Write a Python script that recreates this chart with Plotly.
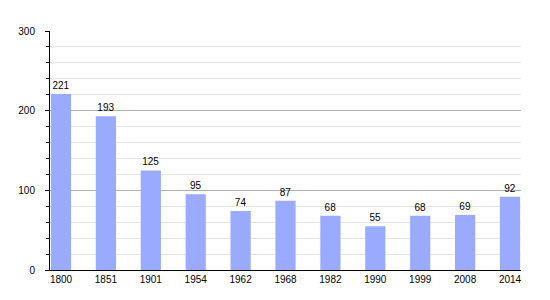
import plotly.graph_objects as go

years = ["1800", "1851", "1901", "1954", "1962", "1968", "1982", "1990", "1999", "2008", "2014"]
population = [221, 193, 125, 95, 74, 87, 68, 55, 68, 69, 92]
y_ticks = [0, 100, 200, 300]

xs = list(range(len(years)))

fig = go.Figure(
    go.Bar(
        x=xs,
        y=population,
        width=0.45,
        marker=dict(color="#99aaff", line=dict(width=0)),
        text=[str(v) for v in population],
        textposition="outside",
        cliponaxis=False,
        textfont=dict(family="Liberation Sans, Arial, sans-serif", size=10, color="#000"),
    )
)

fig.update_layout(
    width=550,
    height=300,
    margin=dict(l=50, r=29, t=31, b=30),
    paper_bgcolor="white",
    plot_bgcolor="white",
    showlegend=False,
    font=dict(family="Liberation Sans, Arial, sans-serif", size=10, color="#000"),
    xaxis=dict(
        tickmode="array",
        tickvals=xs,
        ticktext=years,
        range=[-0.245, len(years) - 1 + 0.245],
        showgrid=False,
        showline=True,
        linecolor="#000",
        linewidth=1,
        ticks="",
        zeroline=False,
        fixedrange=True,
    ),
    yaxis=dict(
        range=[0, 300],
        tickmode="array",
        tickvals=y_ticks,
        showgrid=True,
        gridcolor="#b0b0b0",
        gridwidth=1,
        showline=True,
        linecolor="#000",
        linewidth=1,
        ticks="outside",
        ticklen=4,
        tickcolor="#000",
        ticklabelstandoff=8,
        zeroline=False,
        minor=dict(
            dtick=20,
            tick0=0,
            showgrid=True,
            gridcolor="#e4e4e4",
            gridwidth=1,
            ticks="outside",
            ticklen=3,
            tickcolor="#000",
        ),
    ),
)

fig.write_html("out.html")
